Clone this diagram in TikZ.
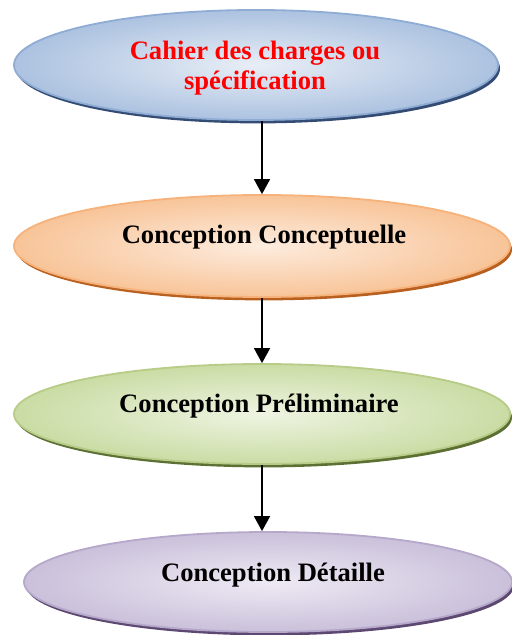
\documentclass[tikz,border=0pt]{standalone}
\usepackage{fontspec}
\setmainfont{Liberation Serif}
\usetikzlibrary{shapes.geometric,shadows,arrows.meta}

\definecolor{blueedge}{RGB}{142,172,212}
\definecolor{bluein}{RGB}{232,238,246}
\definecolor{blueout}{RGB}{172,194,224}
\definecolor{blueshade}{RGB}{52,76,116}
\definecolor{orangeedge}{RGB}{246,178,122}
\definecolor{orangein}{RGB}{253,236,222}
\definecolor{orangeout}{RGB}{248,196,152}
\definecolor{orangeshade}{RGB}{184,96,32}
\definecolor{greenedge}{RGB}{184,204,136}
\definecolor{greenin}{RGB}{238,244,226}
\definecolor{greenout}{RGB}{202,220,164}
\definecolor{greenshade}{RGB}{92,112,52}
\definecolor{violetedge}{RGB}{182,168,202}
\definecolor{violetin}{RGB}{238,234,244}
\definecolor{violetout}{RGB}{202,192,218}
\definecolor{violetshade}{RGB}{92,72,112}

\tikzset{
  stage/.style={ellipse, draw=#1edge, line width=0.9pt, inner sep=0pt,
    inner color=#1in, outer color=#1out,
    drop shadow={shadow xshift=1pt, shadow yshift=-1.7pt, fill=#1shade, opacity=1}},
  caption/.style={font=\fontsize{13.3}{15}\selectfont\bfseries, align=center},
  flow/.style={-{Triangle[length=7.5pt,width=8pt]}, line width=0.8pt}
}

\begin{document}
\begin{tikzpicture}[x=0.5pt, y=-0.5pt]
  \useasboundingbox (0,0) rectangle (512,635);

  % the four stages
  \node[stage=blue, minimum width=242pt, minimum height=55pt] (cahier) at (256,65) {};
  \node[stage=orange, minimum width=248pt, minimum height=51pt] (conceptuelle) at (262,246) {};
  \node[stage=green, minimum width=248pt, minimum height=50pt] (preliminaire) at (262,414) {};
  \node[stage=violet, minimum width=244pt, minimum height=50pt] (detaille) at (268,582) {};

  % texts
  \node[caption, text=red] (cahier-t) at (255,68) {Cahier des charges ou\\spécification};
  \node[caption] (conceptuelle-t) at (264,237) {Conception Conceptuelle};
  \node[caption] (preliminaire-t) at (259,406) {Conception Préliminaire};
  \node[caption] (detaille-t) at (273,575) {Conception Détaille};

  % arrows
  \draw[flow] (cahier.south -| conceptuelle.north) -- (conceptuelle.north);
  \draw[flow] (conceptuelle.south) -- (preliminaire.north);
  \draw[flow] (preliminaire.south) -- (detaille.north -| preliminaire.south);
\end{tikzpicture}
\end{document}
